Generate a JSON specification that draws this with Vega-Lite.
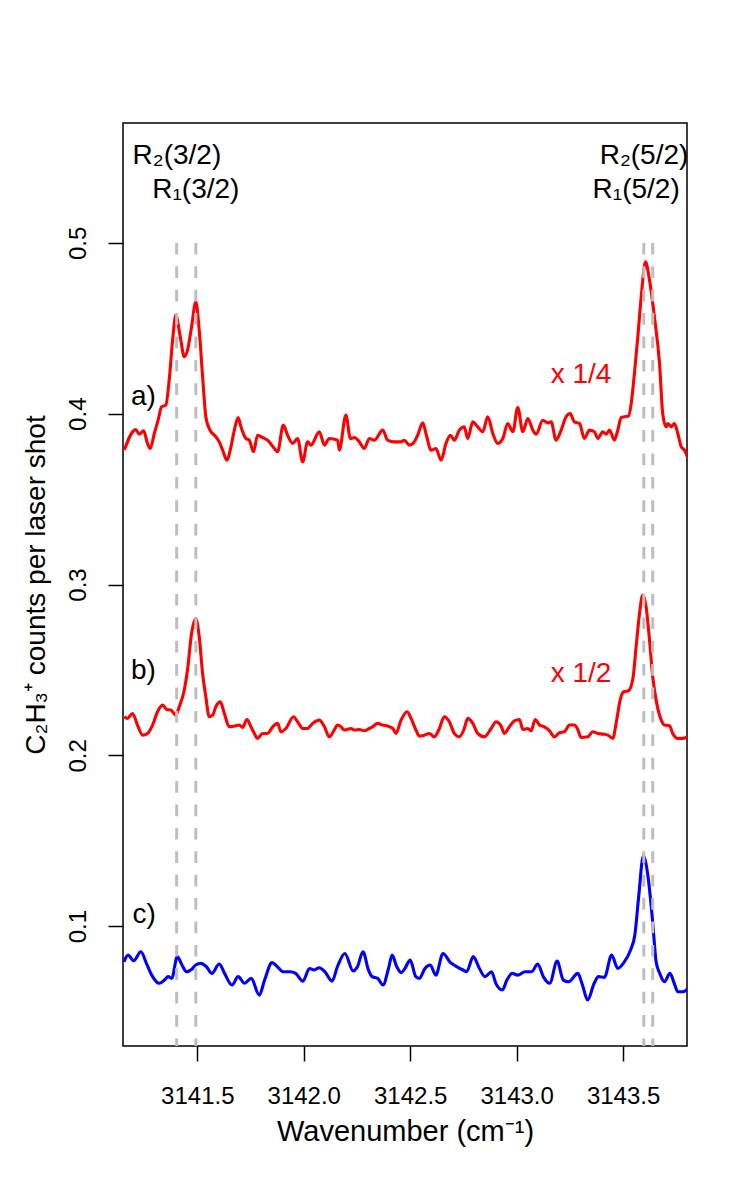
{
  "$schema": "https://vega.github.io/schema/vega-lite/v6.json",
  "width": 564,
  "height": 923,
  "autosize": {"type": "none"},
  "padding": {"left": 123, "top": 123, "right": 63, "bottom": 154},
  "background": "white",
  "config": {"view": {"stroke": "black", "strokeWidth": 1.5}, "font": "Liberation Sans"},
  "datasets": {
    "spectra": [
      {"series":"a","wavenumber":3141.157,"counts":0.3787},{"series":"a","wavenumber":3141.211,"counts":0.3907},{"series":"a","wavenumber":3141.227,"counts":0.3880},{"series":"a","wavenumber":3141.248,"counts":0.3900},{"series":"a","wavenumber":3141.266,"counts":0.3826},{"series":"a","wavenumber":3141.279,"counts":0.3796},{"series":"a","wavenumber":3141.298,"counts":0.3884},{"series":"a","wavenumber":3141.316,"counts":0.3962},{"series":"a","wavenumber":3141.332,"counts":0.4040},{"series":"a","wavenumber":3141.352,"counts":0.4050},{"series":"a","wavenumber":3141.368,"counts":0.4196},{"series":"a","wavenumber":3141.384,"counts":0.4430},{"series":"a","wavenumber":3141.399,"counts":0.4577},{"series":"a","wavenumber":3141.420,"counts":0.4450},{"series":"a","wavenumber":3141.439,"counts":0.4333},{"series":"a","wavenumber":3141.454,"counts":0.4372},{"series":"a","wavenumber":3141.473,"counts":0.4508},{"series":"a","wavenumber":3141.493,"counts":0.4655},{"series":"a","wavenumber":3141.509,"counts":0.4489},{"series":"a","wavenumber":3141.525,"counts":0.4216},{"series":"a","wavenumber":3141.540,"counts":0.3982},{"series":"a","wavenumber":3141.556,"counts":0.3913},{"series":"a","wavenumber":3141.587,"counts":0.3865},{"series":"a","wavenumber":3141.603,"counts":0.3835},{"series":"a","wavenumber":3141.619,"counts":0.3787},{"series":"a","wavenumber":3141.639,"counts":0.3728},{"series":"a","wavenumber":3141.658,"counts":0.3806},{"series":"a","wavenumber":3141.674,"counts":0.3904},{"series":"a","wavenumber":3141.692,"counts":0.3978},{"series":"a","wavenumber":3141.705,"counts":0.3923},{"series":"a","wavenumber":3141.728,"counts":0.3855},{"series":"a","wavenumber":3141.744,"counts":0.3845},{"series":"a","wavenumber":3141.764,"counts":0.3777},{"series":"a","wavenumber":3141.783,"counts":0.3874},{"series":"a","wavenumber":3141.799,"counts":0.3865},{"series":"a","wavenumber":3141.815,"counts":0.3855},{"series":"a","wavenumber":3141.830,"counts":0.3845},{"series":"a","wavenumber":3141.862,"counts":0.3796},{"series":"a","wavenumber":3141.877,"counts":0.3777},{"series":"a","wavenumber":3141.904,"counts":0.3933},{"series":"a","wavenumber":3141.924,"counts":0.3874},{"series":"a","wavenumber":3141.948,"counts":0.3826},{"series":"a","wavenumber":3141.971,"counts":0.3855},{"series":"a","wavenumber":3141.995,"counts":0.3718},{"series":"a","wavenumber":3142.018,"counts":0.3835},{"series":"a","wavenumber":3142.034,"counts":0.3816},{"series":"a","wavenumber":3142.073,"counts":0.3894},{"series":"a","wavenumber":3142.097,"counts":0.3816},{"series":"a","wavenumber":3142.120,"counts":0.3855},{"series":"a","wavenumber":3142.159,"counts":0.3845},{"series":"a","wavenumber":3142.167,"counts":0.3787},{"series":"a","wavenumber":3142.198,"counts":0.3992},{"series":"a","wavenumber":3142.219,"counts":0.3855},{"series":"a","wavenumber":3142.238,"counts":0.3861},{"series":"a","wavenumber":3142.261,"counts":0.3835},{"series":"a","wavenumber":3142.284,"counts":0.3796},{"series":"a","wavenumber":3142.308,"counts":0.3855},{"series":"a","wavenumber":3142.331,"counts":0.3845},{"series":"a","wavenumber":3142.371,"counts":0.3904},{"series":"a","wavenumber":3142.394,"counts":0.3845},{"series":"a","wavenumber":3142.425,"counts":0.3835},{"series":"a","wavenumber":3142.457,"counts":0.3835},{"series":"a","wavenumber":3142.472,"counts":0.3845},{"series":"a","wavenumber":3142.496,"counts":0.3816},{"series":"a","wavenumber":3142.519,"counts":0.3835},{"series":"a","wavenumber":3142.535,"counts":0.3874},{"series":"a","wavenumber":3142.559,"counts":0.3946},{"series":"a","wavenumber":3142.574,"counts":0.3884},{"series":"a","wavenumber":3142.598,"counts":0.3787},{"series":"a","wavenumber":3142.621,"counts":0.3796},{"series":"a","wavenumber":3142.645,"counts":0.3728},{"series":"a","wavenumber":3142.668,"counts":0.3826},{"series":"a","wavenumber":3142.689,"counts":0.3874},{"series":"a","wavenumber":3142.707,"counts":0.3845},{"series":"a","wavenumber":3142.731,"counts":0.3904},{"series":"a","wavenumber":3142.754,"counts":0.3923},{"series":"a","wavenumber":3142.770,"counts":0.3855},{"series":"a","wavenumber":3142.794,"counts":0.3952},{"series":"a","wavenumber":3142.817,"counts":0.3923},{"series":"a","wavenumber":3142.841,"counts":0.3894},{"series":"a","wavenumber":3142.864,"counts":0.3982},{"series":"a","wavenumber":3142.888,"counts":0.3884},{"series":"a","wavenumber":3142.911,"counts":0.3826},{"series":"a","wavenumber":3142.935,"counts":0.3855},{"series":"a","wavenumber":3142.958,"counts":0.3943},{"series":"a","wavenumber":3142.982,"counts":0.3894},{"series":"a","wavenumber":3143.005,"counts":0.4036},{"series":"a","wavenumber":3143.029,"counts":0.3894},{"series":"a","wavenumber":3143.052,"counts":0.3972},{"series":"a","wavenumber":3143.076,"counts":0.3904},{"series":"a","wavenumber":3143.091,"counts":0.3880},{"series":"a","wavenumber":3143.123,"counts":0.3962},{"series":"a","wavenumber":3143.146,"counts":0.3946},{"series":"a","wavenumber":3143.162,"counts":0.3952},{"series":"a","wavenumber":3143.185,"counts":0.3845},{"series":"a","wavenumber":3143.209,"counts":0.3904},{"series":"a","wavenumber":3143.232,"counts":0.3982},{"series":"a","wavenumber":3143.251,"counts":0.4001},{"series":"a","wavenumber":3143.271,"counts":0.3952},{"series":"a","wavenumber":3143.295,"counts":0.3943},{"series":"a","wavenumber":3143.318,"counts":0.3855},{"series":"a","wavenumber":3143.342,"counts":0.3904},{"series":"a","wavenumber":3143.365,"counts":0.3894},{"series":"a","wavenumber":3143.381,"counts":0.3855},{"series":"a","wavenumber":3143.405,"counts":0.3894},{"series":"a","wavenumber":3143.420,"counts":0.3880},{"series":"a","wavenumber":3143.436,"counts":0.3904},{"series":"a","wavenumber":3143.459,"counts":0.3845},{"series":"a","wavenumber":3143.475,"counts":0.3904},{"series":"a","wavenumber":3143.491,"counts":0.3978},{"series":"a","wavenumber":3143.506,"counts":0.3982},{"series":"a","wavenumber":3143.525,"counts":0.3986},{"series":"a","wavenumber":3143.538,"counts":0.4060},{"series":"a","wavenumber":3143.553,"counts":0.4235},{"series":"a","wavenumber":3143.569,"counts":0.4450},{"series":"a","wavenumber":3143.585,"counts":0.4684},{"series":"a","wavenumber":3143.605,"counts":0.4889},{"series":"a","wavenumber":3143.624,"counts":0.4782},{"series":"a","wavenumber":3143.647,"counts":0.4567},{"series":"a","wavenumber":3143.671,"counts":0.4294},{"series":"a","wavenumber":3143.686,"counts":0.4001},{"series":"a","wavenumber":3143.702,"counts":0.3923},{"series":"a","wavenumber":3143.710,"counts":0.3943},{"series":"a","wavenumber":3143.726,"counts":0.3923},{"series":"a","wavenumber":3143.741,"counts":0.3943},{"series":"a","wavenumber":3143.757,"counts":0.3884},{"series":"a","wavenumber":3143.773,"counts":0.3806},{"series":"a","wavenumber":3143.788,"counts":0.3787},{"series":"a","wavenumber":3143.804,"counts":0.3738},
      {"series":"b","wavenumber":3141.157,"counts":0.2226},{"series":"b","wavenumber":3141.172,"counts":0.2216},{"series":"b","wavenumber":3141.196,"counts":0.2245},{"series":"b","wavenumber":3141.219,"counts":0.2177},{"series":"b","wavenumber":3141.243,"counts":0.2118},{"series":"b","wavenumber":3141.266,"counts":0.2128},{"series":"b","wavenumber":3141.290,"counts":0.2177},{"series":"b","wavenumber":3141.313,"counts":0.2255},{"series":"b","wavenumber":3141.337,"counts":0.2294},{"series":"b","wavenumber":3141.357,"counts":0.2268},{"series":"b","wavenumber":3141.376,"counts":0.2265},{"series":"b","wavenumber":3141.399,"counts":0.2235},{"series":"b","wavenumber":3141.415,"counts":0.2284},{"series":"b","wavenumber":3141.439,"counts":0.2382},{"series":"b","wavenumber":3141.454,"counts":0.2499},{"series":"b","wavenumber":3141.473,"counts":0.2713},{"series":"b","wavenumber":3141.493,"counts":0.2801},{"series":"b","wavenumber":3141.509,"counts":0.2694},{"series":"b","wavenumber":3141.525,"counts":0.2479},{"series":"b","wavenumber":3141.540,"counts":0.2343},{"series":"b","wavenumber":3141.556,"counts":0.2226},{"series":"b","wavenumber":3141.572,"counts":0.2235},{"series":"b","wavenumber":3141.587,"counts":0.2284},{"series":"b","wavenumber":3141.608,"counts":0.2313},{"series":"b","wavenumber":3141.627,"counts":0.2245},{"series":"b","wavenumber":3141.650,"counts":0.2167},{"series":"b","wavenumber":3141.674,"counts":0.2171},{"series":"b","wavenumber":3141.697,"counts":0.2177},{"series":"b","wavenumber":3141.713,"counts":0.2163},{"series":"b","wavenumber":3141.733,"counts":0.2210},{"series":"b","wavenumber":3141.752,"counts":0.2167},{"series":"b","wavenumber":3141.768,"counts":0.2128},{"series":"b","wavenumber":3141.783,"counts":0.2099},{"series":"b","wavenumber":3141.807,"counts":0.2128},{"series":"b","wavenumber":3141.830,"counts":0.2128},{"series":"b","wavenumber":3141.854,"counts":0.2167},{"series":"b","wavenumber":3141.877,"counts":0.2187},{"series":"b","wavenumber":3141.893,"counts":0.2138},{"series":"b","wavenumber":3141.916,"counts":0.2157},{"series":"b","wavenumber":3141.952,"counts":0.2226},{"series":"b","wavenumber":3141.971,"counts":0.2196},{"series":"b","wavenumber":3141.995,"counts":0.2157},{"series":"b","wavenumber":3142.018,"counts":0.2157},{"series":"b","wavenumber":3142.042,"counts":0.2187},{"series":"b","wavenumber":3142.073,"counts":0.2206},{"series":"b","wavenumber":3142.097,"counts":0.2167},{"series":"b","wavenumber":3142.120,"counts":0.2108},{"series":"b","wavenumber":3142.143,"counts":0.2148},{"series":"b","wavenumber":3142.159,"counts":0.2177},{"series":"b","wavenumber":3142.175,"counts":0.2167},{"series":"b","wavenumber":3142.190,"counts":0.2148},{"series":"b","wavenumber":3142.222,"counts":0.2157},{"series":"b","wavenumber":3142.238,"counts":0.2148},{"series":"b","wavenumber":3142.261,"counts":0.2151},{"series":"b","wavenumber":3142.284,"counts":0.2144},{"series":"b","wavenumber":3142.308,"counts":0.2157},{"series":"b","wavenumber":3142.324,"counts":0.2167},{"series":"b","wavenumber":3142.347,"counts":0.2187},{"series":"b","wavenumber":3142.371,"counts":0.2177},{"series":"b","wavenumber":3142.394,"counts":0.2171},{"series":"b","wavenumber":3142.418,"counts":0.2157},{"series":"b","wavenumber":3142.433,"counts":0.2128},{"series":"b","wavenumber":3142.457,"counts":0.2206},{"series":"b","wavenumber":3142.485,"counts":0.2255},{"series":"b","wavenumber":3142.504,"counts":0.2216},{"series":"b","wavenumber":3142.527,"counts":0.2148},{"series":"b","wavenumber":3142.543,"counts":0.2112},{"series":"b","wavenumber":3142.566,"counts":0.2118},{"series":"b","wavenumber":3142.590,"counts":0.2128},{"series":"b","wavenumber":3142.613,"counts":0.2108},{"series":"b","wavenumber":3142.637,"counts":0.2157},{"series":"b","wavenumber":3142.660,"counts":0.2226},{"series":"b","wavenumber":3142.684,"counts":0.2196},{"series":"b","wavenumber":3142.707,"counts":0.2128},{"series":"b","wavenumber":3142.731,"counts":0.2108},{"series":"b","wavenumber":3142.754,"counts":0.2157},{"series":"b","wavenumber":3142.770,"counts":0.2216},{"series":"b","wavenumber":3142.794,"counts":0.2187},{"series":"b","wavenumber":3142.817,"counts":0.2128},{"series":"b","wavenumber":3142.848,"counts":0.2108},{"series":"b","wavenumber":3142.880,"counts":0.2157},{"series":"b","wavenumber":3142.903,"counts":0.2196},{"series":"b","wavenumber":3142.927,"counts":0.2171},{"series":"b","wavenumber":3142.942,"counts":0.2128},{"series":"b","wavenumber":3142.966,"counts":0.2167},{"series":"b","wavenumber":3142.989,"counts":0.2202},{"series":"b","wavenumber":3143.013,"counts":0.2210},{"series":"b","wavenumber":3143.029,"counts":0.2151},{"series":"b","wavenumber":3143.052,"counts":0.2157},{"series":"b","wavenumber":3143.068,"counts":0.2144},{"series":"b","wavenumber":3143.087,"counts":0.2210},{"series":"b","wavenumber":3143.107,"counts":0.2177},{"series":"b","wavenumber":3143.130,"counts":0.2167},{"series":"b","wavenumber":3143.154,"counts":0.2144},{"series":"b","wavenumber":3143.177,"counts":0.2108},{"series":"b","wavenumber":3143.201,"counts":0.2132},{"series":"b","wavenumber":3143.224,"counts":0.2138},{"series":"b","wavenumber":3143.248,"counts":0.2177},{"series":"b","wavenumber":3143.271,"counts":0.2177},{"series":"b","wavenumber":3143.287,"counts":0.2151},{"series":"b","wavenumber":3143.303,"counts":0.2104},{"series":"b","wavenumber":3143.334,"counts":0.2108},{"series":"b","wavenumber":3143.357,"counts":0.2138},{"series":"b","wavenumber":3143.381,"counts":0.2128},{"series":"b","wavenumber":3143.405,"counts":0.2124},{"series":"b","wavenumber":3143.428,"counts":0.2118},{"series":"b","wavenumber":3143.452,"counts":0.2099},{"series":"b","wavenumber":3143.467,"counts":0.2187},{"series":"b","wavenumber":3143.488,"counts":0.2333},{"series":"b","wavenumber":3143.503,"counts":0.2372},{"series":"b","wavenumber":3143.525,"counts":0.2378},{"series":"b","wavenumber":3143.546,"counts":0.2450},{"series":"b","wavenumber":3143.561,"counts":0.2635},{"series":"b","wavenumber":3143.577,"counts":0.2830},{"series":"b","wavenumber":3143.592,"counts":0.2938},{"series":"b","wavenumber":3143.608,"counts":0.2869},{"series":"b","wavenumber":3143.624,"counts":0.2674},{"series":"b","wavenumber":3143.639,"counts":0.2460},{"series":"b","wavenumber":3143.655,"counts":0.2323},{"series":"b","wavenumber":3143.679,"counts":0.2206},{"series":"b","wavenumber":3143.694,"counts":0.2177},{"series":"b","wavenumber":3143.718,"counts":0.2173},{"series":"b","wavenumber":3143.733,"counts":0.2128},{"series":"b","wavenumber":3143.757,"counts":0.2099},{"series":"b","wavenumber":3143.780,"counts":0.2099},{"series":"b","wavenumber":3143.801,"counts":0.2108},
      {"series":"c","wavenumber":3141.155,"counts":0.0791},{"series":"c","wavenumber":3141.175,"counts":0.0830},{"series":"c","wavenumber":3141.201,"counts":0.0797},{"series":"c","wavenumber":3141.235,"counts":0.0850},{"series":"c","wavenumber":3141.261,"counts":0.0782},{"series":"c","wavenumber":3141.286,"counts":0.0713},{"series":"c","wavenumber":3141.321,"counts":0.0665},{"series":"c","wavenumber":3141.346,"counts":0.0684},{"series":"c","wavenumber":3141.363,"counts":0.0704},{"series":"c","wavenumber":3141.380,"counts":0.0694},{"series":"c","wavenumber":3141.406,"counts":0.0821},{"series":"c","wavenumber":3141.428,"counts":0.0772},{"series":"c","wavenumber":3141.449,"counts":0.0733},{"series":"c","wavenumber":3141.474,"counts":0.0747},{"series":"c","wavenumber":3141.492,"counts":0.0772},{"series":"c","wavenumber":3141.517,"counts":0.0782},{"series":"c","wavenumber":3141.543,"counts":0.0762},{"series":"c","wavenumber":3141.568,"counts":0.0723},{"series":"c","wavenumber":3141.603,"counts":0.0778},{"series":"c","wavenumber":3141.628,"counts":0.0723},{"series":"c","wavenumber":3141.663,"counts":0.0655},{"series":"c","wavenumber":3141.692,"counts":0.0704},{"series":"c","wavenumber":3141.722,"counts":0.0665},{"series":"c","wavenumber":3141.753,"counts":0.0694},{"series":"c","wavenumber":3141.791,"counts":0.0596},{"series":"c","wavenumber":3141.816,"counts":0.0684},{"series":"c","wavenumber":3141.851,"counts":0.0786},{"series":"c","wavenumber":3141.876,"counts":0.0762},{"series":"c","wavenumber":3141.902,"counts":0.0733},{"series":"c","wavenumber":3141.936,"counts":0.0733},{"series":"c","wavenumber":3141.962,"counts":0.0723},{"series":"c","wavenumber":3141.996,"counts":0.0678},{"series":"c","wavenumber":3142.027,"counts":0.0752},{"series":"c","wavenumber":3142.047,"counts":0.0743},{"series":"c","wavenumber":3142.073,"counts":0.0756},{"series":"c","wavenumber":3142.099,"counts":0.0733},{"series":"c","wavenumber":3142.133,"counts":0.0678},{"series":"c","wavenumber":3142.158,"counts":0.0762},{"series":"c","wavenumber":3142.193,"counts":0.0840},{"series":"c","wavenumber":3142.232,"counts":0.0737},{"series":"c","wavenumber":3142.252,"counts":0.0762},{"series":"c","wavenumber":3142.278,"counts":0.0850},{"series":"c","wavenumber":3142.304,"counts":0.0743},{"series":"c","wavenumber":3142.321,"counts":0.0704},{"series":"c","wavenumber":3142.347,"counts":0.0694},{"series":"c","wavenumber":3142.372,"counts":0.0655},{"series":"c","wavenumber":3142.398,"counts":0.0752},{"series":"c","wavenumber":3142.415,"counts":0.0830},{"series":"c","wavenumber":3142.437,"counts":0.0762},{"series":"c","wavenumber":3142.458,"counts":0.0727},{"series":"c","wavenumber":3142.475,"counts":0.0752},{"series":"c","wavenumber":3142.500,"counts":0.0801},{"series":"c","wavenumber":3142.526,"counts":0.0704},{"series":"c","wavenumber":3142.543,"counts":0.0694},{"series":"c","wavenumber":3142.569,"counts":0.0752},{"series":"c","wavenumber":3142.594,"counts":0.0772},{"series":"c","wavenumber":3142.620,"counts":0.0713},{"series":"c","wavenumber":3142.654,"counts":0.0840},{"series":"c","wavenumber":3142.689,"counts":0.0786},{"series":"c","wavenumber":3142.714,"counts":0.0766},{"series":"c","wavenumber":3142.748,"counts":0.0743},{"series":"c","wavenumber":3142.765,"counts":0.0733},{"series":"c","wavenumber":3142.796,"counts":0.0821},{"series":"c","wavenumber":3142.825,"counts":0.0752},{"series":"c","wavenumber":3142.851,"counts":0.0704},{"series":"c","wavenumber":3142.882,"counts":0.0733},{"series":"c","wavenumber":3142.902,"counts":0.0665},{"series":"c","wavenumber":3142.933,"counts":0.0626},{"series":"c","wavenumber":3142.954,"counts":0.0684},{"series":"c","wavenumber":3142.979,"counts":0.0723},{"series":"c","wavenumber":3143.005,"counts":0.0713},{"series":"c","wavenumber":3143.039,"counts":0.0733},{"series":"c","wavenumber":3143.070,"counts":0.0733},{"series":"c","wavenumber":3143.099,"counts":0.0778},{"series":"c","wavenumber":3143.125,"counts":0.0704},{"series":"c","wavenumber":3143.155,"counts":0.0665},{"series":"c","wavenumber":3143.190,"counts":0.0795},{"series":"c","wavenumber":3143.219,"counts":0.0684},{"series":"c","wavenumber":3143.244,"counts":0.0674},{"series":"c","wavenumber":3143.287,"counts":0.0723},{"series":"c","wavenumber":3143.309,"counts":0.0655},{"series":"c","wavenumber":3143.333,"counts":0.0567},{"series":"c","wavenumber":3143.364,"counts":0.0665},{"series":"c","wavenumber":3143.384,"counts":0.0704},{"series":"c","wavenumber":3143.412,"counts":0.0700},{"series":"c","wavenumber":3143.446,"counts":0.0830},{"series":"c","wavenumber":3143.475,"counts":0.0752},{"series":"c","wavenumber":3143.501,"counts":0.0782},{"series":"c","wavenumber":3143.535,"counts":0.0860},{"series":"c","wavenumber":3143.555,"counts":0.0948},{"series":"c","wavenumber":3143.573,"counts":0.1172},{"series":"c","wavenumber":3143.595,"counts":0.1410},{"series":"c","wavenumber":3143.617,"counts":0.1289},{"series":"c","wavenumber":3143.638,"counts":0.1035},{"series":"c","wavenumber":3143.655,"counts":0.0791},{"series":"c","wavenumber":3143.672,"counts":0.0723},{"series":"c","wavenumber":3143.694,"counts":0.0674},{"series":"c","wavenumber":3143.720,"counts":0.0723},{"series":"c","wavenumber":3143.740,"counts":0.0665},{"series":"c","wavenumber":3143.757,"counts":0.0616},{"series":"c","wavenumber":3143.783,"counts":0.0616},{"series":"c","wavenumber":3143.805,"counts":0.0635}
    ],
    "transitions": [
      {"line":"R2(3/2)","wavenumber":3141.403},
      {"line":"R1(3/2)","wavenumber":3141.493},
      {"line":"R2(5/2)","wavenumber":3143.597},
      {"line":"R1(5/2)","wavenumber":3143.639}
    ],
    "labels": [
      {"label":"R₂(3/2)","wavenumber":3141.404,"counts":0.5461,"kind":"transition"},
      {"label":"R₁(3/2)","wavenumber":3141.493,"counts":0.5262,"kind":"transition"},
      {"label":"R₂(5/2)","wavenumber":3143.598,"counts":0.5461,"kind":"transition"},
      {"label":"R₁(5/2)","wavenumber":3143.561,"counts":0.5262,"kind":"transition"},
      {"label":"a)","wavenumber":3141.247,"counts":0.4050,"kind":"panel"},
      {"label":"b)","wavenumber":3141.247,"counts":0.2446,"kind":"panel"},
      {"label":"c)","wavenumber":3141.250,"counts":0.1019,"kind":"panel"},
      {"label":"x 1/4","wavenumber":3143.302,"counts":0.4180,"kind":"factor"},
      {"label":"x 1/2","wavenumber":3143.302,"counts":0.2430,"kind":"factor"}
    ]
  },
  "layer": [
    {
      "data": {"name": "spectra"},
      "mark": {"type": "line", "strokeWidth": 3.1, "clip": true, "interpolate": "monotone"},
      "encoding": {
        "x": {
          "field": "wavenumber", "type": "quantitative",
          "scale": {"domain": [3141.151, 3143.80], "nice": false, "zero": false},
          "axis": {
            "title": "Wavenumber (cm⁻¹)",
            "values": [3141.5, 3142.0, 3142.5, 3143.0, 3143.5],
            "format": ".1f", "grid": false, "domain": false,
            "tickSize": 15, "tickColor": "black", "tickWidth": 1.5,
            "labelFont": "Liberation Sans", "labelFontSize": 24, "labelColor": "black",
            "labelBaseline": "alphabetic", "labelPadding": 42,
            "titleFont": "Liberation Sans", "titleFontSize": 29, "titleFontWeight": "normal", "titleColor": "black",
            "titleBaseline": "alphabetic", "titleX": 282, "titleY": 94
          }
        },
        "y": {
          "field": "counts", "type": "quantitative",
          "scale": {"domain": [0.0298, 0.5702], "nice": false, "zero": false},
          "axis": {
            "title": "C₂H₃⁺ counts per laser shot",
            "values": [0.1, 0.2, 0.3, 0.4, 0.5],
            "format": ".1f", "grid": false, "domain": false,
            "tickSize": 15, "tickColor": "black", "tickWidth": 1.5,
            "labelFont": "Liberation Sans", "labelFontSize": 24, "labelColor": "black",
            "labelAngle": 270, "labelAlign": "center", "labelBaseline": "alphabetic", "labelPadding": 23,
            "titleFont": "Liberation Sans", "titleFontSize": 28, "titleFontWeight": "normal", "titleColor": "black",
            "titleAngle": 270, "titleAlign": "center", "titleBaseline": "alphabetic", "titleX": -79, "titleY": 461.5
          }
        },
        "color": {
          "field": "series", "type": "nominal",
          "scale": {"domain": ["a", "b", "c"], "range": ["#FF0000", "#FF0000", "#0000FF"]},
          "legend": null
        }
      }
    },
    {
      "data": {"name": "transitions"},
      "mark": {"type": "rule", "color": "#BEBEBE", "strokeWidth": 3, "strokeDash": [11.7, 11.7], "clip": true},
      "encoding": {
        "x": {"field": "wavenumber", "type": "quantitative"},
        "y": {"datum": 0.5},
        "y2": {"datum": 0.0298}
      }
    },
    {
      "data": {"name": "labels"},
      "mark": {"type": "text", "font": "Liberation Sans", "fontSize": 28, "baseline": "alphabetic", "align": "center"},
      "encoding": {
        "x": {"field": "wavenumber", "type": "quantitative"},
        "y": {"field": "counts", "type": "quantitative"},
        "text": {"field": "label"},
        "color": {
          "field": "kind", "type": "nominal",
          "scale": {"domain": ["transition", "panel", "factor"], "range": ["black", "black", "#FF0000"]},
          "legend": null
        }
      }
    }
  ],
  "resolve": {"scale": {"color": "independent"}}
}
